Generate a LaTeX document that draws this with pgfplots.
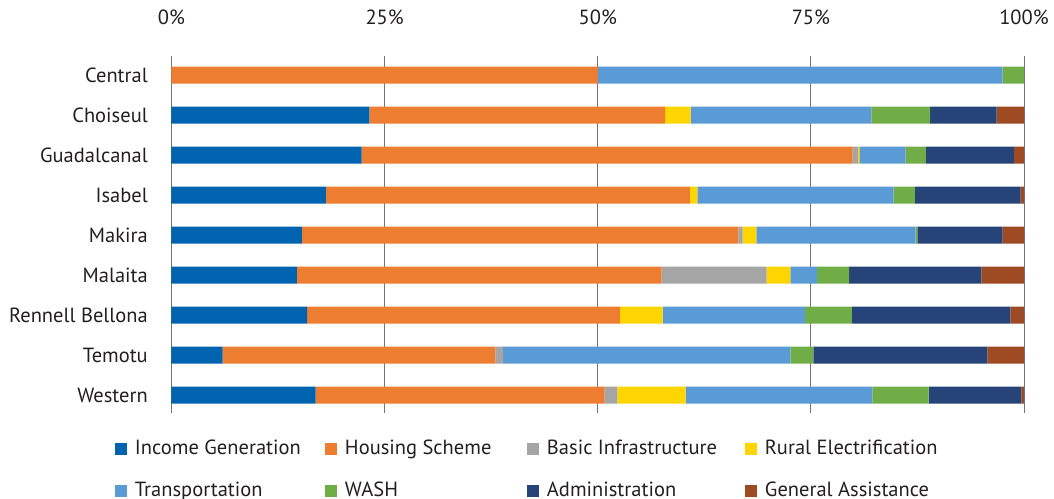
\documentclass[border=0pt]{standalone}
\usepackage{pgfplots}
\pgfplotsset{compat=1.18}
\usepackage{pgfplotstable}
\usepackage{fontspec}
\setmainfont{PT Sans}
\definecolor{cIG}{HTML}{0063AF}
\definecolor{cHS}{HTML}{ED7D31}
\definecolor{cBI}{HTML}{A5A5A5}
\definecolor{cRE}{HTML}{FFD500}
\definecolor{cTR}{HTML}{5B9BD5}
\definecolor{cWA}{HTML}{70AD47}
\definecolor{cAD}{HTML}{264478}
\definecolor{cGA}{HTML}{9E4A22}
\definecolor{txt}{HTML}{231F20}
\pgfplotstableread{
y IG HS BI RE TR WA AD GA
0 0 50.0 0 0 47.5 2.5 0 0
1 23.2 34.7 0 3.0 21.2 6.9 7.8 3.2
2 22.3 57.6 0.6 0.2 5.4 2.4 10.3 1.2
3 18.1 42.7 0 0.9 23.0 2.5 12.4 0.4
4 15.3 51.2 0.5 1.6 18.7 0.2 10.0 2.5
5 14.7 42.8 12.3 2.8 3.1 3.8 15.5 5.0
6 15.9 36.7 0 5.0 16.7 5.5 18.6 1.6
7 6.0 32.0 0.9 0 33.7 2.7 20.4 4.3
8 16.9 33.9 1.5 8.0 21.9 6.6 10.9 0.3
}\data
\newcommand{\fs}{\fontsize{20.5bp}{24bp}\selectfont}
\begin{document}
\fs
\begin{tikzpicture}
\begin{axis}[
  name=ax,
  scale only axis,
  width=852.5bp, height=357bp,
  xbar stacked,
  bar width=0.425,
  y dir=reverse,
  xmin=0, xmax=100,
  ymin=-0.475, ymax=8.45,
  xtick={0,25,50,75,100},
  xticklabels={0\%,25\%,50\%,75\%,100\%},
  xticklabel pos=upper,
  ytick={0,...,8},
  yticklabels={Central,Choiseul,Guadalcanal,Isabel,Makira,Malaita,Rennell Bellona,Temotu,Western},
  major tick length=0pt,
  axis line style={draw=none},
  xmajorgrids,
  grid style={color=black!55, line width=1bp},
  tick label style={font=\fs, text=txt},
  xticklabel style={anchor=base, inner sep=0pt, yshift=31.5bp},
  yticklabel style={anchor=base east, inner sep=0pt, xshift=-23.5bp, yshift=-7bp},
  legend columns=4,
  legend cell align=left,
  legend image code/.code={\fill[#1] (0bp,-6bp) rectangle (12bp,6bp);},
  legend style={draw=none, fill=none, inner sep=0pt, outer sep=0pt,
    at={(-0.06628,-0.077)}, anchor=north west,
    font=\fs, text=txt,
    row sep=24bp,
    nodes={inner xsep=0pt, inner ysep=0pt, text height=14bp, text depth=4bp},
    /tikz/every odd column/.append style={column sep=8bp},
    /tikz/every even column/.append style={column sep=0pt}},
]
\addplot[fill=cIG, draw=none] table[x=IG, y=y] {\data};
\addplot[fill=cHS, draw=none] table[x=HS, y=y] {\data};
\addplot[fill=cBI, draw=none] table[x=BI, y=y] {\data};
\addplot[fill=cRE, draw=none] table[x=RE, y=y] {\data};
\addplot[fill=cTR, draw=none] table[x=TR, y=y] {\data};
\addplot[fill=cWA, draw=none] table[x=WA, y=y] {\data};
\addplot[fill=cAD, draw=none] table[x=AD, y=y] {\data};
\addplot[fill=cGA, draw=none] table[x=GA, y=y] {\data};
\legend{\makebox[190bp][l]{Income Generation},\makebox[182bp][l]{Housing Scheme},\makebox[198bp][l]{Basic Infrastructure},Rural Electrification,\makebox[190bp][l]{Transportation},\makebox[182bp][l]{WASH},\makebox[198bp][l]{Administration},General Assistance}
\end{axis}
\pgfresetboundingbox
\path[use as bounding box] ([shift={(-171.5bp,56bp)}]ax.north west) rectangle ([shift={(882.5bp,-443bp)}]ax.north west);
\end{tikzpicture}
\end{document}
